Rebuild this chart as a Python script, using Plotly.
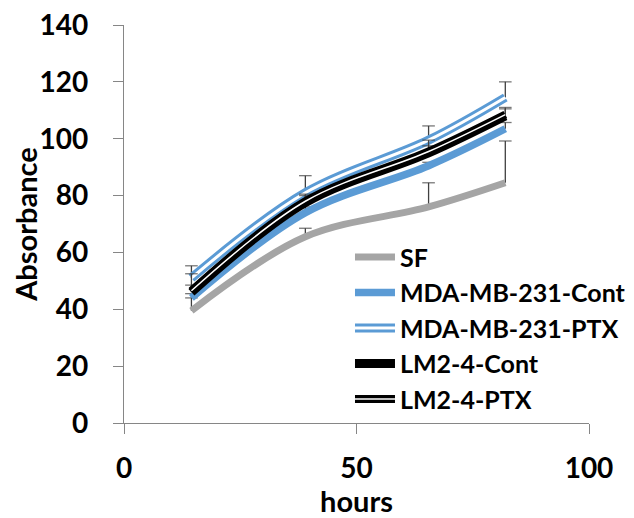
import plotly.graph_objects as go

hours = [14.5, 39, 65.5, 82]
series_names = ["SF", "MDA-MB-231-Cont", "MDA-MB-231-PTX", "LM2-4-Cont", "LM2-4-PTX"]
sf = [39.5, 65.5, 76, 84.5]
mda_cont = [44, 74, 90.5, 103.5]
mda_ptx = [51, 81, 99.5, 114.5]
lm2_cont = [46, 77.5, 95, 108]
lm2_ptx = [46.5, 78, 95.5, 108.5]
sf_err = [4.5, 3, 8.5, 14.7]
mda_cont_err = [1.5, 2, 1.2, 2.2]
mda_ptx_err = [4.3, 6, 5, 5.5]
lm2_cont_err = [6.5, 3, 4.5, 3]
lm2_ptx_err = [2, 2, 2, 2]
y_ticks = [0, 20, 40, 60, 80, 100, 120, 140]
x_ticks = [0, 50, 100]

GRAY = "#A5A5A5"
BLUE = "#5B9BD5"
BLACK = "#000000"
ERR = "#404040"
FONT = "Lato"

fig = go.Figure()


def errbars(y, e):
    xs, ys, sizes = [], [], []
    for xi, yi, ei in zip(hours, y, e):
        xs += [xi, xi, None]
        ys += [yi, yi + ei, None]
        sizes += [0, 9, 0]
    fig.add_trace(go.Scatter(
        x=xs, y=ys, mode="lines+markers", showlegend=False, hoverinfo="skip",
        line=dict(color=ERR, width=1.3),
        marker=dict(symbol="line-ew", size=sizes, line=dict(color=ERR, width=1.3)),
    ))


def main(name, y, color, width, e, rank):
    errbars(y, e)
    fig.add_trace(go.Scatter(
        x=hours, y=y, name=name, mode="lines",
        line=dict(color=color, width=width, shape="spline", smoothing=1),
        legend="legend", legendrank=rank,
    ))


def inner(name, y, width, rank):
    fig.add_trace(go.Scatter(
        x=hours, y=y, name=name, mode="lines",
        line=dict(color="white", width=width, shape="spline", smoothing=1),
        legend="legend2", legendrank=rank, hoverinfo="skip",
    ))


def dummy(name, rank):
    fig.add_trace(go.Scatter(
        x=[None], y=[None], name=name, mode="lines",
        line=dict(color="rgba(0,0,0,0)", width=1),
        legend="legend2", legendrank=rank,
    ))


main(series_names[0], sf, GRAY, 7, sf_err, 1)
main(series_names[1], mda_cont, BLUE, 7.5, mda_cont_err, 2)
main(series_names[2], mda_ptx, BLUE, 9, mda_ptx_err, 3)
inner(series_names[2], mda_ptx, 3, 3)
main(series_names[3], lm2_cont, BLACK, 9, lm2_cont_err, 4)
main(series_names[4], lm2_ptx, BLACK, 8, lm2_ptx_err, 5)
inner(series_names[4], lm2_ptx, 1.5, 5)
dummy(series_names[0], 1)
dummy(series_names[1], 2)
dummy(series_names[3], 4)

legend_common = dict(
    x=0.486, xanchor="left", y=0.474, yanchor="top",
    bgcolor="rgba(0,0,0,0)", borderwidth=0,
    itemwidth=40, traceorder="normal",
)
LEG_SIZE = 25

# page body has an 8px margin, so the figure is 8px smaller on each axis
fig.update_layout(
    width=626, height=510,
    margin=dict(l=116, r=45, t=17, b=95, autoexpand=False),
    paper_bgcolor="white", plot_bgcolor="white",
    font=dict(family=FONT, color="black", weight="bold"),
    showlegend=True,
    legend=dict(font=dict(family=FONT, size=LEG_SIZE, color="black", weight="bold"), **legend_common),
    legend2=dict(font=dict(family=FONT, size=LEG_SIZE, color="rgba(0,0,0,0)", weight="bold"), **legend_common),
    xaxis=dict(
        range=[0, 100], tickvals=x_ticks, ticktext=[str(v) for v in x_ticks],
        showline=True, linecolor="#868686", linewidth=1.3,
        ticks="outside", ticklen=10, tickcolor="#868686", tickwidth=1.3,
        showgrid=False, zeroline=False, automargin=False, ticklabeloverflow="allow",
        tickfont=dict(family=FONT, size=28, color="black", weight="bold"),
        ticklabelstandoff=10,
        title=dict(text="hours", font=dict(family=FONT, size=29, color="black", weight="bold"), standoff=0),
    ),
    yaxis=dict(
        range=[0, 140], tickvals=y_ticks, ticktext=[str(v) for v in y_ticks],
        showline=True, linecolor="#868686", linewidth=1.3,
        ticks="outside", ticklen=10, tickcolor="#868686", tickwidth=1.3,
        showgrid=False, zeroline=False, automargin=False, ticklabeloverflow="allow",
        tickfont=dict(family=FONT, size=28, color="black", weight="bold"),
        ticklabelstandoff=19,
        title=dict(text="Absorbance", font=dict(family=FONT, size=29, color="black", weight="bold"), standoff=2),
    ),
)

fig.write_html("out.html")
